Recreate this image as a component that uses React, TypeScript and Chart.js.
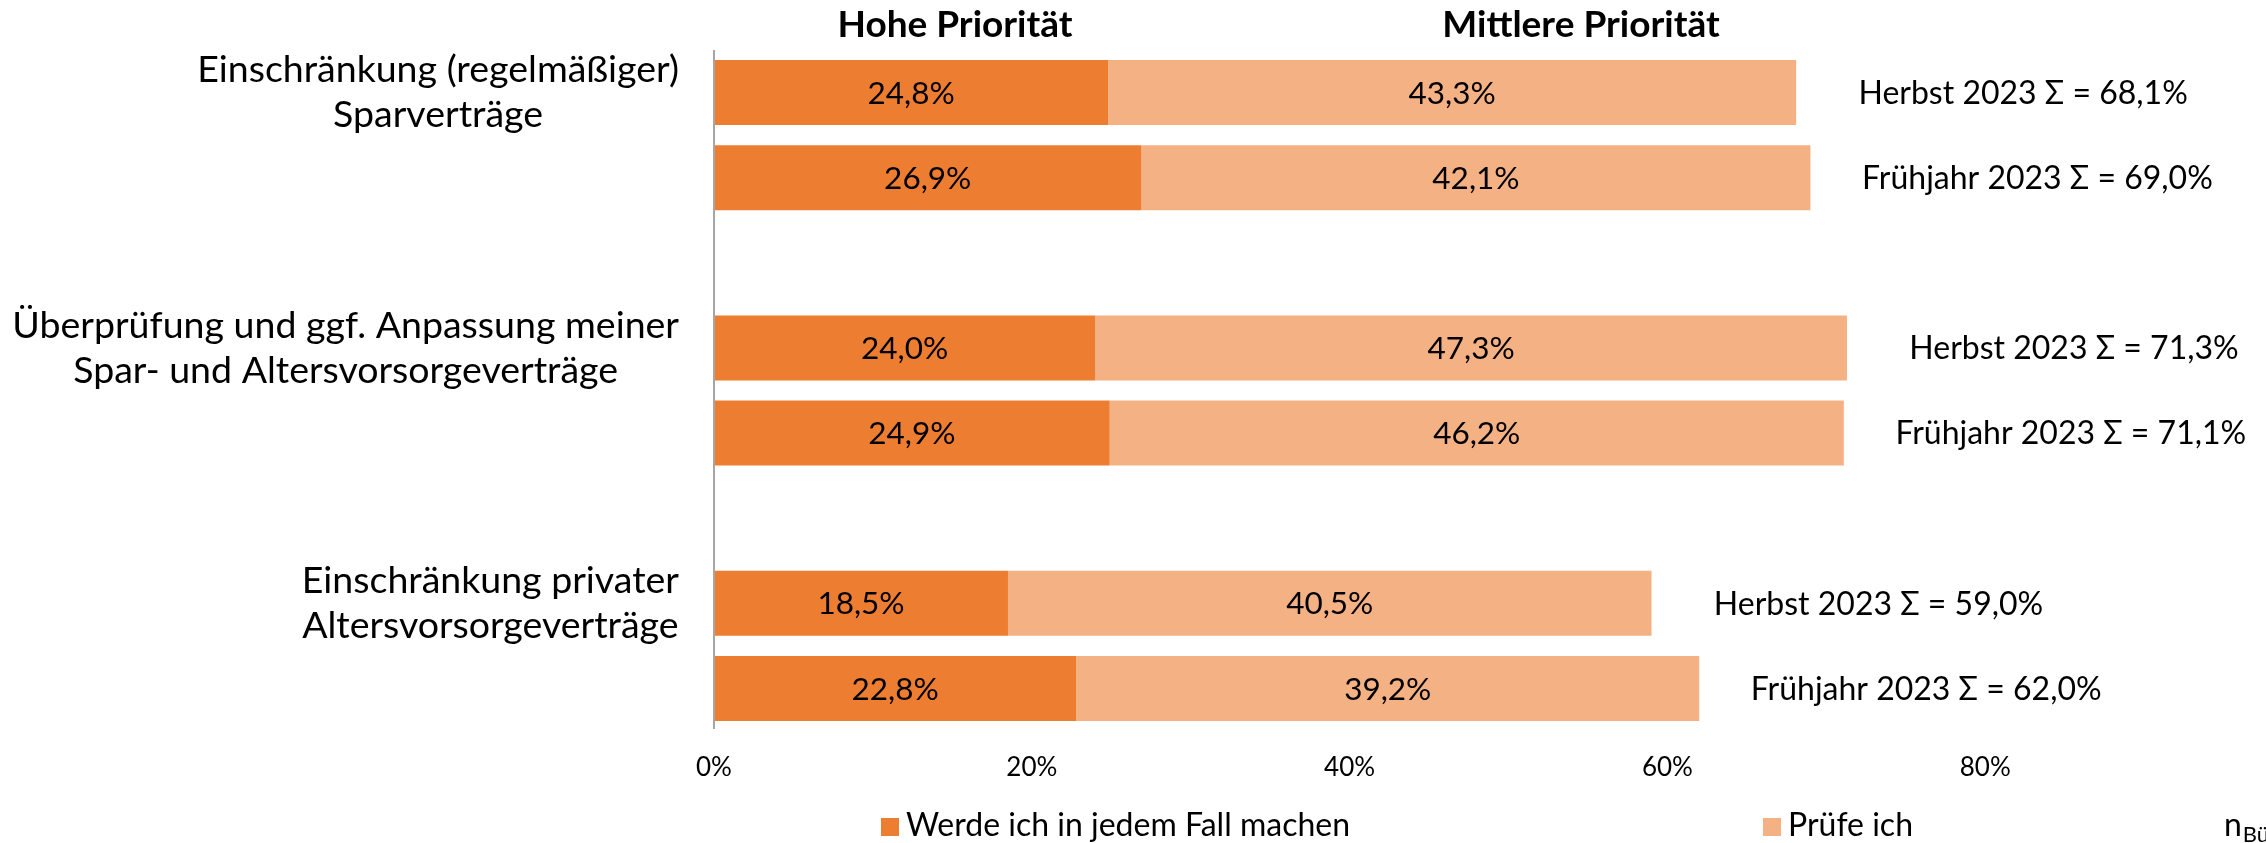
import React, { useEffect, useRef } from "react";
import { Chart, registerables } from "chart.js";

Chart.register(...registerables);

// ---------- data ----------
const GROUPS: string[][] = [
  ["Einschränkung (regelmäßiger)", "Sparverträge"],
  ["Überprüfung und ggf. Anpassung meiner", "Spar- und Altersvorsorgeverträge"],
  ["Einschränkung privater", "Altersvorsorgeverträge"],
];
const PERIODS = ["Herbst 2023", "Frühjahr 2023"];
const SERIES_NAMES = ["Werde ich in jedem Fall machen", "Prüfe ich"];
const HIGH = [24.8, 26.9, 24.0, 24.9, 18.5, 22.8];
const MEDIUM = [43.3, 42.1, 47.3, 46.2, 40.5, 39.2];
const TOTALS = [68.1, 69.0, 71.3, 71.1, 59.0, 62.0];
const HEADERS = ["Hohe Priorität", "Mittlere Priorität"];
const X_TICKS = [0, 20, 40, 60, 80];
const COLORS = ["#ED7D31", "#F4B183"];

// ---------- build slot table (rows + empty gap rows between groups) ----------
const slotLabels: string[] = [];
const slotRow: (number | null)[] = [];
GROUPS.forEach((g, gi) => {
  PERIODS.forEach((p, pi) => {
    slotLabels.push(g.join(" ") + " – " + p);
    slotRow.push(gi * PERIODS.length + pi);
  });
  if (gi < GROUPS.length - 1) {
    slotLabels.push(" ".repeat(gi + 1));
    slotRow.push(null);
  }
});
const slotData = (arr: number[]) => slotRow.map((r) => (r === null ? null : arr[r]));
const fmt = (v: number) => v.toFixed(1).replace(".", ",") + "%";

const FONT = "Lato";

const overlayPlugin = {
  id: "overlay",
  afterDraw(chart: any) {
    const { ctx, chartArea } = chart;
    const xs = chart.scales.x;
    const ys = chart.scales.y;
    ctx.save();

    // vertical axis line
    ctx.strokeStyle = "#A6A6A6";
    ctx.lineWidth = 2;
    ctx.beginPath();
    ctx.moveTo(chartArea.left, chartArea.top);
    ctx.lineTo(chartArea.left, chartArea.bottom - 2);
    ctx.stroke();

    ctx.fillStyle = "#000";
    ctx.textBaseline = "middle";

    // category labels (centered block, right edge near axis)
    ctx.font = `37.5px ${FONT}`;
    ctx.textAlign = "center";
    GROUPS.forEach((lines, gi) => {
      const slot = slotRow.indexOf(gi * PERIODS.length);
      const y = ys.getPixelForValue(slot);
      const maxW = Math.max(...lines.map((l) => ctx.measureText(l).width));
      const cx = chartArea.left - 35 - maxW / 2;
      const lh = 45;
      lines.forEach((l, li) => {
        ctx.fillText(l, cx, y + (li - (lines.length - 1) / 2) * lh);
      });
    });

    // value labels inside segments
    ctx.font = `31.5px ${FONT}`;
    chart.data.datasets.forEach((ds: any, di: number) => {
      const meta = chart.getDatasetMeta(di);
      meta.data.forEach((el: any, i: number) => {
        const v = ds.data[i];
        if (v === null || v === undefined) return;
        ctx.fillText(fmt(v), (el.x + el.base) / 2, el.y + 1);
      });
    });

    // totals to the right of bars
    ctx.font = `32px ${FONT}`;
    slotRow.forEach((r, s) => {
      if (r === null) return;
      const period = PERIODS[r % PERIODS.length];
      const txt = `${period} Σ = ${fmt(TOTALS[r])}`;
      const x = xs.getPixelForValue(TOTALS[r]) + 227;
      ctx.fillText(txt, x, ys.getPixelForValue(s) + 1);
    });

    // headers
    ctx.font = `bold 37px ${FONT}`;
    ctx.fillText(HEADERS[0], chartArea.left + 241, 25);
    ctx.fillText(HEADERS[1], chartArea.left + 867, 25);

    // legend
    ctx.font = `32px ${FONT}`;
    ctx.textAlign = "left";
    const legendX = [881, 1763];
    SERIES_NAMES.forEach((name, i) => {
      ctx.fillStyle = COLORS[i];
      ctx.fillRect(legendX[i], 818, 18, 18);
      ctx.fillStyle = "#000";
      ctx.fillText(name, legendX[i] + 25, 826);
    });

    // sample note (cut at the edge)
    ctx.font = `32px ${FONT}`;
    ctx.fillText("n", 2224, 826);
    const nw = ctx.measureText("n").width;
    ctx.font = `22px ${FONT}`;
    ctx.fillText("Bürger", 2224 + nw + 1, 835);

    ctx.restore();
  },
};

export default function App() {
  const ref = useRef<HTMLCanvasElement | null>(null);

  useEffect(() => {
    if (!ref.current) return;
    const chart = new Chart(ref.current, {
      type: "bar",
      data: {
        labels: slotLabels,
        datasets: [
          {
            label: SERIES_NAMES[0],
            data: slotData(HIGH),
            backgroundColor: COLORS[0],
            borderWidth: 0,
            barPercentage: 0.765,
            categoryPercentage: 1,
          },
          {
            label: SERIES_NAMES[1],
            data: slotData(MEDIUM),
            backgroundColor: COLORS[1],
            borderWidth: 0,
            barPercentage: 0.765,
            categoryPercentage: 1,
          },
        ],
      },
      options: {
        indexAxis: "y",
        responsive: false,
        animation: false,
        devicePixelRatio: 1,
        layout: { padding: { left: 714, top: 50, right: 42.4, bottom: 38.8 } },
        plugins: {
          legend: { display: false },
          tooltip: { enabled: false },
          title: { display: false },
        },
        scales: {
          y: {
            type: "category",
            stacked: true,
            display: false,
          },
          x: {
            type: "linear",
            stacked: true,
            min: 0,
            max: 95,
            grid: { display: false, drawTicks: false },
            border: { display: false },
            afterBuildTicks: (scale: any) => {
              scale.ticks = X_TICKS.map((v) => ({ value: v }));
            },
            ticks: {
              padding: 21,
              color: "#000",
              font: { family: FONT, size: 26 },
              callback: (v: any) => v + "%",
              maxRotation: 0,
              autoSkip: false,
            },
          },
        },
      },
      plugins: [overlayPlugin],
    } as any);
    return () => chart.destroy();
  }, []);

  return (
    <div style={{ position: "fixed", left: 0, top: 0, width: 2266, height: 843, background: "#fff" }}>
      <canvas ref={ref} width={2266} height={843} style={{ display: "block" }} />
    </div>
  );
}
